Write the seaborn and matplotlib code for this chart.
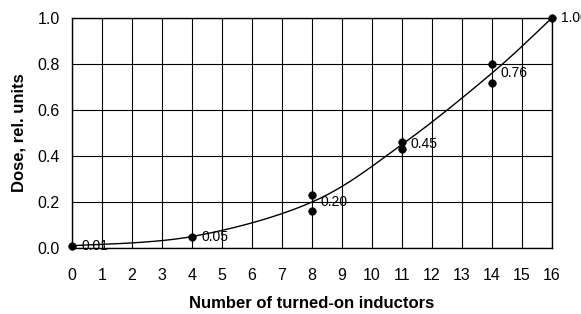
import numpy as np
import pandas as pd
import matplotlib
matplotlib.use("Agg")
import matplotlib.pyplot as plt
import seaborn as sns

# ------------------------- DATA ------------------------- #
inductors = [0, 4, 8, 8, 11, 11, 14, 14, 16]
dose = [0.01, 0.05, 0.23, 0.16, 0.46, 0.43, 0.80, 0.715, 1.00]

mean_x = [0, 4, 8, 11, 14, 16]
mean_dose = [0.01, 0.05, 0.20, 0.45, 0.76, 1.00]
mean_labels = ["0.01", "0.05", "0.20", "0.45", "0.76", "1.00"]

points_df = pd.DataFrame({"n": inductors, "dose": dose})


# smoothed line through the means (spreadsheet-style bezier smoothing)
def smooth_line(xv, yv, steps=40):
    pts = np.column_stack([xv, yv]).astype(float)
    padded = np.vstack([pts[0], pts, pts[-1]])
    out = []
    t = np.linspace(0, 1, steps)[:, None]
    for i in range(1, len(padded) - 2):
        p0, p1, p2, p3 = padded[i - 1], padded[i], padded[i + 1], padded[i + 2]
        b1 = p1 + (p2 - p0) / 6
        b2 = p2 - (p3 - p1) / 6
        seg = ((1 - t) ** 3) * p1 + 3 * ((1 - t) ** 2) * t * b1 + 3 * (1 - t) * t ** 2 * b2 + t ** 3 * p2
        out.append(seg)
    return np.vstack(out)


curve = smooth_line(mean_x, mean_dose)
trend_df = pd.DataFrame({"n": curve[:, 0], "dose": curve[:, 1]})

# ------------------------- PLOT ------------------------- #
sns.set_style("white")
plt.rcParams["font.family"] = ["Liberation Sans", "DejaVu Sans"]
plt.rcParams.update({"text.color": "black", "axes.labelcolor": "black",
                     "xtick.color": "black", "ytick.color": "black"})

fig, ax = plt.subplots(figsize=(5.81, 3.14), dpi=100)
fig.subplots_adjust(left=0.124, right=0.95, top=0.943, bottom=0.21)

ax.plot(trend_df["n"], trend_df["dose"], color="black", linewidth=1.0)
sns.scatterplot(data=points_df, x="n", y="dose", color="black", s=30,
                edgecolor="black", ax=ax, zorder=3, clip_on=False)

for x, y, lab in zip(mean_x, mean_dose, mean_labels):
    ax.text(x + 0.3, y, lab, fontsize=10, va="center", ha="left", color="black")

ax.set_xlim(0, 16)
ax.set_ylim(0, 1.0)
ax.set_xticks(range(0, 17))
ax.set_yticks(np.arange(0, 1.01, 0.2))
ax.set_yticklabels([f"{v:.1f}" for v in np.arange(0, 1.01, 0.2)])
ax.grid(True, color="black", linewidth=0.8)
ax.tick_params(axis="both", length=0, labelsize=11.5, labelcolor="black")
ax.tick_params(axis="x", pad=14)
ax.tick_params(axis="y", pad=9)
for sp in ax.spines.values():
    sp.set_color("black")
    sp.set_linewidth(1.0)

ax.set_xlabel("Number of turned-on inductors", fontsize=12, fontweight="bold", labelpad=10)
ax.set_ylabel("Dose, rel. units", fontsize=12, fontweight="bold", labelpad=8)

fig.savefig("out.png", dpi=100)
